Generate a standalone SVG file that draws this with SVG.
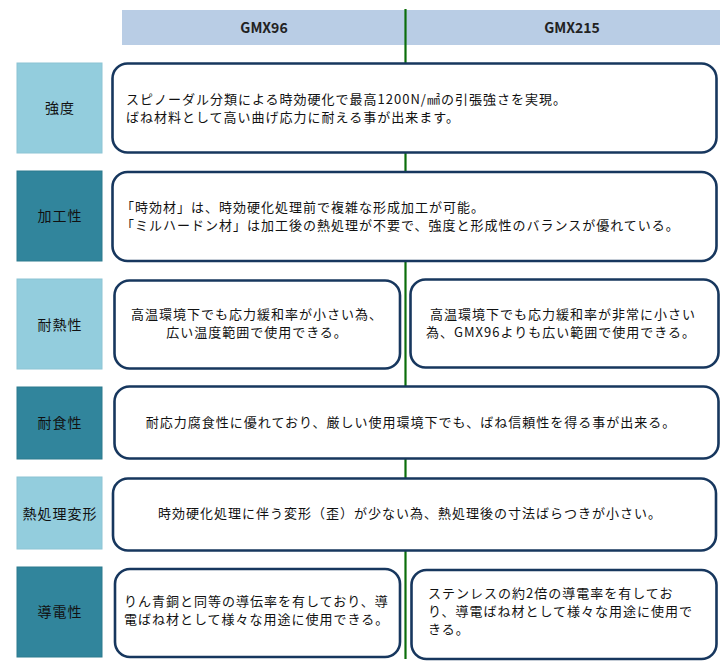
<svg xmlns="http://www.w3.org/2000/svg" width="725" height="665" viewBox="0 0 725 665">
<style>
.hdr{fill:#b9cde5}
.lbl-l{fill:#93cddd;stroke:#8cc4d4;stroke-width:1}
.lbl-d{fill:#31859c;stroke:#2c7a8e;stroke-width:1}
.box{fill:#ffffff;stroke:#17375e;stroke-width:2.6}
.t{font-family:"Noto Sans CJK JP","Noto Sans",sans-serif;font-size:13px;letter-spacing:1px;fill:#111}
.lt{font-family:"Noto Sans CJK JP","Noto Sans",sans-serif;font-size:14px;letter-spacing:1px;fill:#111;text-anchor:middle}
.ht{font-family:"Noto Sans CJK JP","Noto Sans",sans-serif;font-size:14px;font-weight:bold;fill:#222;text-anchor:middle}
.c{text-anchor:middle}
</style>
<g id="header">
<rect class="hdr" x="122" y="10" width="283" height="35"/>
<rect class="hdr" x="406" y="10" width="314" height="35"/>
<text class="ht" x="264" y="33">GMX96</text>
<text class="ht" x="572" y="33">GMX215</text>
</g>
<g id="connectors">
<line x1="405.5" y1="9" x2="405.5" y2="659" stroke="#0b6e0b" stroke-width="2.2"/>
</g>
<g id="row-strength">
<rect class="lbl-l" x="17" y="63" width="85" height="90"/>
<text class="lt" x="60" y="113">強度</text>
<rect class="box" x="112.5" y="63.5" width="604" height="89" rx="15"/>
<text class="t"><tspan x="126" y="104">スピノーダル分類による時効硬化で最高1200N/㎟の引張強さを実現。</tspan><tspan x="126" y="122">ばね材料として高い曲げ応力に耐える事が出来ます。</tspan></text>
</g>
<g id="row-workability">
<rect class="lbl-d" x="17" y="171" width="85" height="90"/>
<text class="lt" x="60" y="221">加工性</text>
<rect class="box" x="112.5" y="172" width="604" height="89" rx="15"/>
<text class="t"><tspan x="121" y="212">「時効材」は、時効硬化処理前で複雑な形成加工が可能。</tspan><tspan x="121" y="230">「ミルハードン材」は加工後の熱処理が不要で、強度と形成性のバランスが優れている。</tspan></text>
</g>
<g id="row-heat">
<rect class="lbl-l" x="17" y="279" width="85" height="90"/>
<text class="lt" x="60" y="330">耐熱性</text>
<rect class="box" x="114.5" y="280.5" width="285.5" height="88" rx="15"/>
<text class="t c"><tspan x="257" y="319">高温環境下でも応力緩和率が小さい為、</tspan><tspan x="257" y="337">広い温度範囲で使用できる。</tspan></text>
<rect class="box" x="410.5" y="279.5" width="308" height="88" rx="15"/>
<text class="t c"><tspan x="563" y="319">高温環境下でも応力緩和率が非常に小さい</tspan><tspan x="561" y="337">為、GMX96よりも広い範囲で使用できる。</tspan></text>
</g>
<g id="row-corrosion">
<rect class="lbl-d" x="17" y="387" width="85" height="72"/>
<text class="lt" x="60" y="428">耐食性</text>
<rect class="box" x="114.5" y="386.5" width="604" height="72" rx="15"/>
<text class="t c" x="411" y="427">耐応力腐食性に優れており、厳しい使用環境下でも、ばね信頼性を得る事が出来る。</text>
</g>
<g id="row-deformation">
<rect class="lbl-l" x="17" y="477" width="85" height="72"/>
<text class="lt" x="60" y="519">熱処理変形</text>
<rect class="box" x="113" y="478.5" width="603" height="72" rx="15"/>
<text class="t c" x="410" y="518">時効硬化処理に伴う変形（歪）が少ない為、熱処理後の寸法ばらつきが小さい。</text>
</g>
<g id="row-conductivity">
<rect class="lbl-d" x="17" y="567" width="85" height="90"/>
<text class="lt" x="60" y="617">導電性</text>
<rect class="box" x="115" y="569" width="285" height="88" rx="15"/>
<text class="t"><tspan x="124" y="606">りん青銅と同等の導伝率を有しており、導</tspan><tspan x="124" y="624">電ばね材として様々な用途に使用できる。</tspan></text>
<rect class="box" x="411.5" y="570" width="305" height="89" rx="15"/>
<text class="t"><tspan x="428" y="598">ステンレスの約2倍の導電率を有してお</tspan><tspan x="428" y="616">り、導電ばね材として様々な用途に使用で</tspan><tspan x="428" y="634">きる。</tspan></text>
</g>
</svg>
